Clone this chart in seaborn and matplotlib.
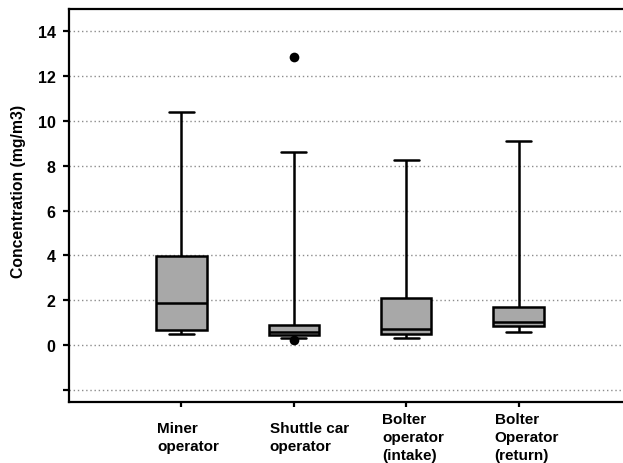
import matplotlib.pyplot as plt
import matplotlib.transforms as mtransforms
import numpy as np
import pandas as pd
import seaborn as sns

# summary values (mg/m3)
categories = ['Miner operator', 'Shuttle car operator',
              'Bolter operator (intake)', 'Bolter Operator (return)']
tick_labels = ['Miner\noperator', 'Shuttle car\noperator',
               'Bolter\noperator\n(intake)', 'Bolter\nOperator\n(return)']
whisker_low = [0.49, 0.30, 0.31, 0.57]
q1 = [0.67, 0.42, 0.49, 0.83]
median = [1.85, 0.58, 0.71, 1.01]
q3 = [3.96, 0.90, 2.08, 1.68]
whisker_high = [10.39, 8.60, 8.26, 9.09]
outlier_group = ['Shuttle car operator', 'Shuttle car operator']
outlier_value = [12.84, 0.20]

# five summary points per group -> percentiles land exactly on q1/median/q3
rows = []
for i, cat in enumerate(categories):
    for v in (whisker_low[i], q1[i], median[i], q3[i], whisker_high[i]):
        rows.append((cat, v))
df = pd.DataFrame(rows, columns=['group', 'conc'])

sns.set_style('ticks', {'text.color': 'black', 'axes.labelcolor': 'black',
                        'xtick.color': 'black', 'ytick.color': 'black',
                        'axes.edgecolor': 'black'})
plt.rcParams['font.family'] = ['Liberation Sans', 'DejaVu Sans']

fig = plt.figure(figsize=(6.23, 4.64), dpi=100)
ax = fig.add_axes([0.111, 0.1315, 0.889, 0.847])

sns.boxplot(data=df, x='group', y='conc', order=categories, whis=(0, 100),
            width=0.45, color='#a8a8a8', saturation=1, showfliers=False,
            linecolor='black', linewidth=1.8, ax=ax)
sns.stripplot(x=outlier_group, y=outlier_value, order=categories, jitter=False,
              color='black', size=7, ax=ax, zorder=5)

ax.set_xlim(-1, 3.93)
ax.set_ylim(-2.55, 15.0)

ax.set_yticks(np.arange(-2, 15, 2))
ax.set_yticklabels([''] + [str(v) for v in range(0, 15, 2)],
                   fontsize=11.5, fontweight='bold')
ax.yaxis.grid(True, linestyle=(0, (1, 2)), color='#8c8c8c', linewidth=1)
ax.set_axisbelow(True)
ax.tick_params(axis='y', length=4.3, width=1.6, pad=5.5)

# category labels: left aligned, shifted a little left of each tick
ax.set_xticks(range(len(categories)))
ax.set_xticklabels([''] * len(categories))
ax.tick_params(axis='x', length=3.6, width=1.6)
offset = mtransforms.ScaledTranslation(-24 / 100, -35 / 100, fig.dpi_scale_trans)
for i, lab in enumerate(tick_labels):
    ax.text(i, 0, lab, transform=ax.get_xaxis_transform() + offset,
            ha='left', va='center', multialignment='left', linespacing=1.4,
            fontsize=11, fontweight='bold', color='black')

ax.set_xlabel('')
ax.set_ylabel('Concentration (mg/m3)', fontsize=11.3, fontweight='bold')
ax.yaxis.set_label_coords(-0.078, 0.539)

ax.spines['right'].set_visible(False)
for side in ['left', 'bottom', 'top']:
    ax.spines[side].set_linewidth(1.6)
    ax.spines[side].set_color('black')

fig.savefig('out.png', dpi=100)
